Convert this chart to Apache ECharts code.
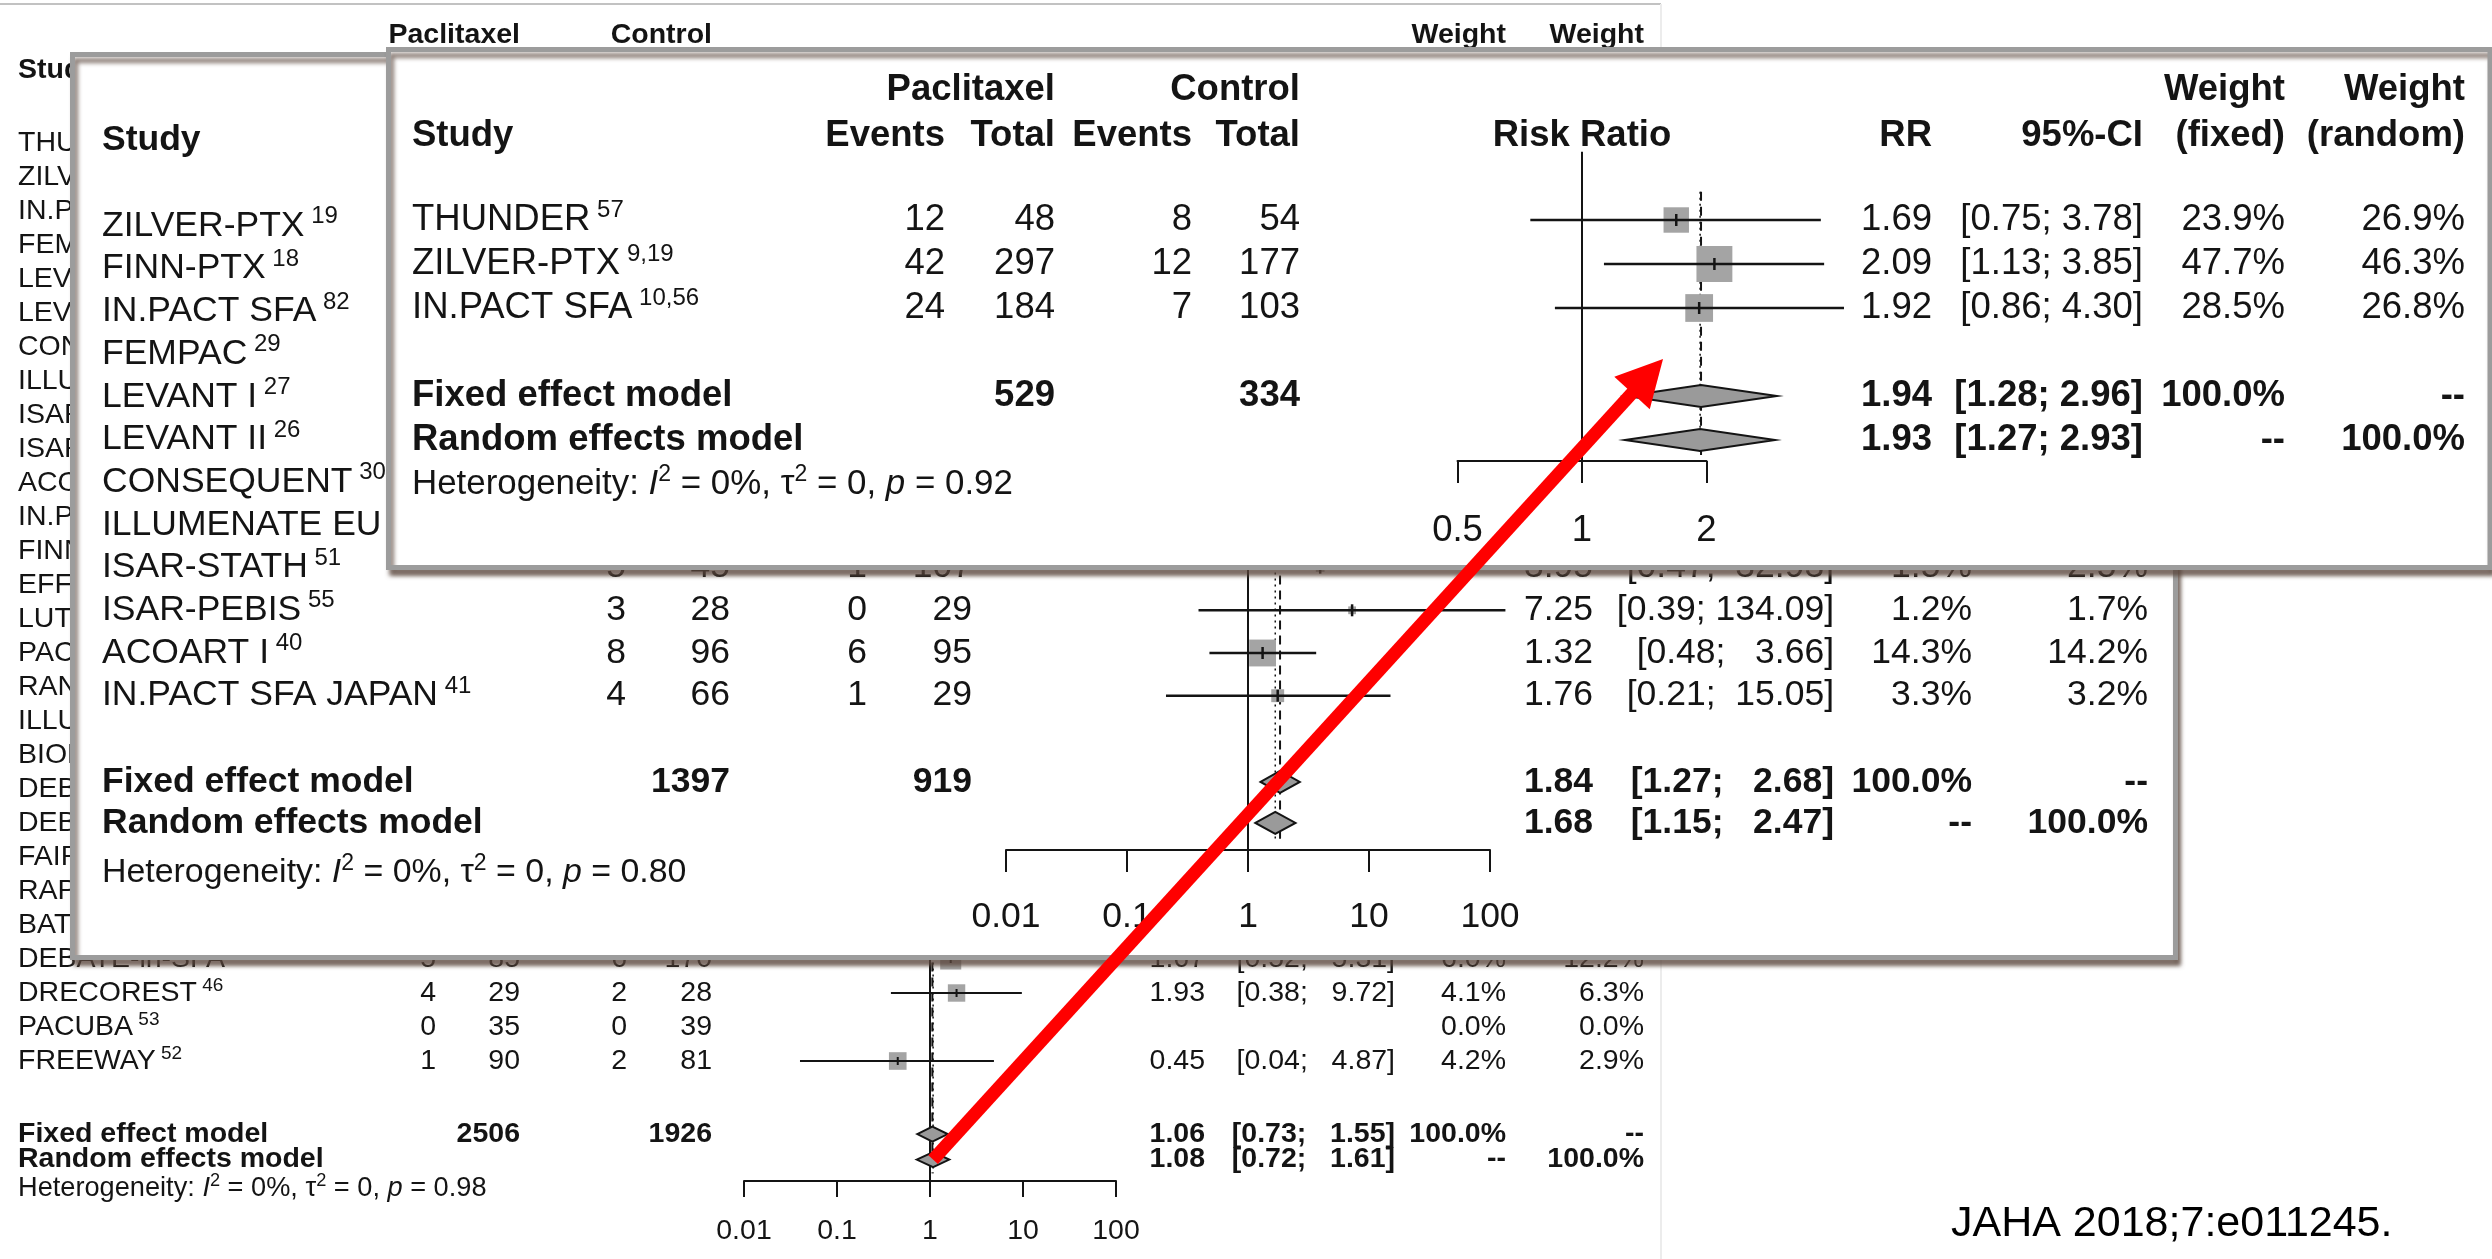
<!DOCTYPE html>
<html><head><meta charset="utf-8">
<script src="https://cdn.jsdelivr.net/npm/echarts@6/dist/echarts.min.js"></script>
<style>html,body{margin:0;padding:0;background:#fff;}#c{width:2492px;height:1259px;}</style>
</head><body><div id="c"></div>
<script>
// ================= DATA =================
const armLabels = ['Paclitaxel', 'Control'];

// --- Background plot: all RCTs (rows hidden behind the insets have no readable values) ---
const bgStudies = ['THUNDER','ZILVER-PTX','IN.PACT SFA','FEMPAC','LEVANT I','LEVANT II','CONSEQUENT','ILLUMENATE EU RCT','ISAR-STATH','ISAR-PEBIS','ACOART I','IN.PACT SFA JAPAN','FINN-PTX','EFFPAC','LUTONIX SFA','PACIFIER','RANGER SFA','ILLUMENATE PIVOTAL','BIOLUX P-I','DEBATE-SFA','DEBELLUM','FAIR','RAPID','BATTLE','DEBATE-in-SFA','DRECOREST','PACUBA','FREEWAY'];
const bgRefs  = ['57','9,19','10,56','29','27','26','30','31','51','55','40','41','18','','','','','','','','','','','','','46','53','52'];
const bgEv1  = [...Array(24).fill(null), 5, 4, 0, 1];
const bgTot1 = [...Array(24).fill(null), 85, 29, 35, 90];
const bgEv2  = [...Array(24).fill(null), 6, 2, 0, 2];
const bgTot2 = [...Array(24).fill(null), 170, 28, 39, 81];
const bgRR   = [...Array(24).fill(null), 1.67, 1.93, null, 0.45];
const bgLo   = [...Array(24).fill(null), 0.52, 0.38, null, 0.04];
const bgHi   = [...Array(24).fill(null), 5.31, 9.72, null, 4.87];
const bgWf   = [...Array(24).fill(null), 6.0, 4.1, 0.0, 4.2];
const bgWr   = [...Array(24).fill(null), 12.2, 6.3, 0.0, 2.9];
const bgTotals = [2506, 1926];
const bgFixed  = [1.06, 0.73, 1.55];
const bgRandom = [1.08, 0.72, 1.61];
const bgHet    = ['0%', '0', '0.98'];
const bgTicks  = [0.01, 0.1, 1, 10, 100];
const bgTickLabels = ['0.01', '0.1', '1', '10', '100'];

// --- Middle inset ---
const midStudies = ['ZILVER-PTX','FINN-PTX','IN.PACT SFA','FEMPAC','LEVANT I','LEVANT II','CONSEQUENT','ILLUMENATE EU RCT','ISAR-STATH','ISAR-PEBIS','ACOART I','IN.PACT SFA JAPAN'];
const midRefs  = ['19','18','82','29','27','26','30','31','51','55','40','41'];
const midEv1  = [null,null,null,null,null,null,null,null, 5, 3, 8, 4];
const midTot1 = [null,null,null,null,null,null,null,null, 45, 28, 96, 66];
const midEv2  = [null,null,null,null,null,null,null,null, 1, 0, 6, 1];
const midTot2 = [null,null,null,null,null,null,null,null, 107, 29, 95, 29];
const midRR   = [null,null,null,null,null,null,null,null, 3.95, 7.25, 1.32, 1.76];
const midLo   = [null,null,null,null,null,null,null,null, 0.47, 0.39, 0.48, 0.21];
const midHi   = [null,null,null,null,null,null,null,null, 32.93, 134.09, 3.66, 15.05];
const midWf   = [null,null,null,null,null,null,null,null, 1.5, 1.2, 14.3, 3.3];
const midWr   = [null,null,null,null,null,null,null,null, 2.5, 1.7, 14.2, 3.2];
const midTotals = [1397, 919];
const midFixed  = [1.84, 1.27, 2.68];
const midRandom = [1.68, 1.15, 2.47];
const midHet    = ['0%', '0', '0.80'];
const midTicks  = [0.01, 0.1, 1, 10, 100];
const midTickLabels = ['0.01', '0.1', '1', '10', '100'];

// --- Front inset ---
const frontStudies = ['THUNDER','ZILVER-PTX','IN.PACT SFA'];
const frontRefs  = ['57','9,19','10,56'];
const frontEv1  = [12, 42, 24];
const frontTot1 = [48, 297, 184];
const frontEv2  = [8, 12, 7];
const frontTot2 = [54, 177, 103];
const frontRR   = [1.69, 2.09, 1.92];
const frontLo   = [0.75, 1.13, 0.86];
const frontHi   = [3.78, 3.85, 4.30];
const frontWf   = [23.9, 47.7, 28.5];
const frontWr   = [26.9, 46.3, 26.8];
const frontTotals = [529, 334];
const frontFixed  = [1.94, 1.28, 2.96];
const frontRandom = [1.93, 1.27, 2.93];
const frontHet    = ['0%', '0', '0.92'];
const frontTicks  = [0.5, 1, 2];
const frontTickLabels = ['0.5', '1', '2'];

const sourceNote = 'JAHA 2018;7:e011245.';

// ================= LAYOUT / STYLE =================
const W = 2492, H = 1259;
const FONT = "'Liberation Sans', Arial, Helvetica, sans-serif";
const INK = '#141414';

const BG = {zl:0, rowY0:143, rowH:34, fs:28.5, sup:19, axisY:1181, fx0:744, fx1:1116, logBase:10, xmin:0.01, xmax:100,
  tickLen:16, labelMargin:36,
  cols:{name:18, ev1:436, tot1:520, ev2:627, tot2:712, rrHead:930, rr:1205, ci:1395, wf:1506, wr:1644},
  headerRows:[-3.18,-2.15], fixedRow:29.15, randomRow:29.9, hetRow:30.75, sqK:8.6, lw:2, tickH:8, dH:7.5,
  refTop:-1.5, dashTop:-0.6, dashBot:30.3, ciLen:6,
  studies:bgStudies, refs:bgRefs, ev1:bgEv1, tot1:bgTot1, ev2:bgEv2, tot2:bgTot2, rr:bgRR, lo:bgLo, hi:bgHi, wf:bgWf, wr:bgWr,
  totals:bgTotals, fixed:bgFixed, random:bgRandom, het:bgHet, ticks:bgTicks, tickLabels:bgTickLabels};
const MID = {zl:1, rowY0:226, rowH:42.7, fs:35.5, sup:24, axisY:850, fx0:1006, fx1:1490, logBase:10, xmin:0.01, xmax:100,
  tickLen:22, labelMargin:49,
  cols:{name:102, ev1:626, tot1:730, ev2:867, tot2:972, rrHead:1247, rr:1593, ci:1834, wf:1972, wr:2148},
  headerRows:[-3.01,-2.01], fixedRow:13.02, randomRow:13.98, hetRow:15.14, sqK:7.1, lw:2.5, tickH:12, dH:11,
  refTop:-1.5, dashTop:-0.6, dashBot:14.35, ciLen:6,
  studies:midStudies, refs:midRefs, ev1:midEv1, tot1:midTot1, ev2:midEv2, tot2:midTot2, rr:midRR, lo:midLo, hi:midHi, wf:midWf, wr:midWr,
  totals:midTotals, fixed:midFixed, random:midRandom, het:midHet, ticks:midTicks, tickLabels:midTickLabels};
const FRONT = {zl:2, rowY0:220, rowH:44, fs:36.5, sup:24, axisY:461, fx0:1457.5, fx1:1706.5, logBase:2, xmin:0.5, xmax:2,
  tickLen:22, labelMargin:51,
  cols:{name:412, ev1:945, tot1:1055, ev2:1192, tot2:1300, rrHead:1582, rr:1932, ci:2143, wf:2285, wr:2465},
  headerRows:[-2.95,-1.92], fixedRow:4, randomRow:5, hetRow:6, sqK:5.2, lw:2.5, tickH:12, dH:11,
  refTop:-1.55, dashTop:-0.64, dashBot:5.34, ciLen:4,
  studies:frontStudies, refs:frontRefs, ev1:frontEv1, tot1:frontTot1, ev2:frontEv2, tot2:frontTot2, rr:frontRR, lo:frontLo, hi:frontHi, wf:frontWf, wr:frontWr,
  totals:frontTotals, fixed:frontFixed, random:frontRandom, het:frontHet, ticks:frontTicks, tickLabels:frontTickLabels};

// ================= BUILD =================
function fmtCI(lo, hi, maxLen) {
  const h = hi.toFixed(2);
  return '[' + lo.toFixed(2) + ';' + ' '.repeat(1 + Math.max(0, maxLen - h.length)) + h + ']';
}
function tickText(v, ticks, labels) {
  let bi = 0, bd = Infinity;
  ticks.forEach((t, i) => { const d = Math.abs(Math.log(v) - Math.log(t)); if (d < bd) { bd = d; bi = i; } });
  return bd < 1e-6 ? labels[bi] : '';
}

const grids = [], xAxes = [], yAxes = [], series = [];
const axisRefs = {};

function addPanel(key, P) {
  const gi = grids.length, fi = gi + 1;
  grids.push({left:0, top:0, width:W, height:H, show:false});
  xAxes.push({gridIndex:gi, type:'value', min:0, max:W, show:false});
  yAxes.push({gridIndex:gi, type:'value', inverse:true, min:-P.rowY0/P.rowH, max:(H-P.rowY0)/P.rowH, show:false});
  grids.push({left:P.fx0, top:0, width:P.fx1-P.fx0, height:P.axisY, show:false});
  xAxes.push({gridIndex:fi, type:'log', logBase:P.logBase, min:P.xmin, max:P.xmax, zlevel:P.zl, z:10,
    axisLine:{show:true, onZero:false, lineStyle:{color:INK, width:2}},
    axisTick:{show:true, length:P.tickLen, lineStyle:{color:INK, width:2}},
    axisLabel:{show:true, margin:P.labelMargin, color:INK, fontSize:P.fs, fontFamily:FONT,
      formatter:(v) => tickText(v, P.ticks, P.tickLabels)},
    splitLine:{show:false}, minorTick:{show:false}});
  yAxes.push({gridIndex:fi, type:'value', inverse:true, min:-P.rowY0/P.rowH, max:(P.axisY-P.rowY0)/P.rowH, show:false});
  axisRefs[key] = {x:fi, y:fi};

  // ---------- text cells ----------
  const cells = [];
  const add = (x, row, text, align, bold, rich) => cells.push({x, row, text, align, bold:!!bold, rich});
  const C = P.cols;
  const [h1, h2] = P.headerRows;
  add(C.tot1, h1, armLabels[0], 'right', true);
  add(C.tot2, h1, armLabels[1], 'right', true);
  add(C.wf, h1, 'Weight', 'right', true);
  add(C.wr, h1, 'Weight', 'right', true);
  add(C.name, h2, 'Study', 'left', true);
  add(C.ev1, h2, 'Events', 'right', true);
  add(C.tot1, h2, 'Total', 'right', true);
  add(C.ev2, h2, 'Events', 'right', true);
  add(C.tot2, h2, 'Total', 'right', true);
  add(C.rrHead, h2, 'Risk Ratio', 'center', true);
  add(C.rr, h2, 'RR', 'right', true);
  add(C.ci, h2, '95%-CI', 'right', true);
  add(C.wf, h2, '(fixed)', 'right', true);
  add(C.wr, h2, '(random)', 'right', true);

  const nameRich = {
    n:{fontSize:P.fs, fontFamily:FONT, fill:INK, lineHeight:Math.round(P.fs*1.2), verticalAlign:'middle'},
    s:{fontSize:P.sup, fontFamily:FONT, fill:INK, lineHeight:P.sup, verticalAlign:'top'}
  };
  P.studies.forEach((s, i) => {
    const ref = P.refs[i];
    add(C.name, i, ref ? `{n|${s}}{s| ${ref}}` : `{n|${s}}`, 'left', false, nameRich);
    if (P.ev1[i] != null) add(C.ev1, i, String(P.ev1[i]), 'right');
    if (P.tot1[i] != null) add(C.tot1, i, String(P.tot1[i]), 'right');
    if (P.ev2[i] != null) add(C.ev2, i, String(P.ev2[i]), 'right');
    if (P.tot2[i] != null) add(C.tot2, i, String(P.tot2[i]), 'right');
    if (P.rr[i] != null) {
      add(C.rr, i, P.rr[i].toFixed(2), 'right');
      add(C.ci, i, fmtCI(P.lo[i], P.hi[i], P.ciLen), 'right');
    }
    if (P.wf[i] != null) add(C.wf, i, P.wf[i].toFixed(1) + '%', 'right');
    if (P.wr[i] != null) add(C.wr, i, P.wr[i].toFixed(1) + '%', 'right');
  });
  add(C.name, P.fixedRow, 'Fixed effect model', 'left', true);
  add(C.tot1, P.fixedRow, String(P.totals[0]), 'right', true);
  add(C.tot2, P.fixedRow, String(P.totals[1]), 'right', true);
  add(C.rr, P.fixedRow, P.fixed[0].toFixed(2), 'right', true);
  add(C.ci, P.fixedRow, fmtCI(P.fixed[1], P.fixed[2], P.ciLen), 'right', true);
  add(C.wf, P.fixedRow, '100.0%', 'right', true);
  add(C.wr, P.fixedRow, '--', 'right', true);
  add(C.name, P.randomRow, 'Random effects model', 'left', true);
  add(C.rr, P.randomRow, P.random[0].toFixed(2), 'right', true);
  add(C.ci, P.randomRow, fmtCI(P.random[1], P.random[2], P.ciLen), 'right', true);
  add(C.wf, P.randomRow, '--', 'right', true);
  add(C.wr, P.randomRow, '100.0%', 'right', true);
  const hf = +(P.fs * 0.955).toFixed(1), hs = +(P.sup * 0.96).toFixed(1);
  const hetRich = {
    a:{fontSize:hf, fontFamily:FONT, fill:INK, lineHeight:Math.round(hf*1.2), verticalAlign:'middle'},
    i:{fontSize:hf, fontFamily:FONT, fill:INK, fontStyle:'italic', lineHeight:Math.round(hf*1.2), verticalAlign:'middle'},
    s:{fontSize:hs, fontFamily:FONT, fill:INK, lineHeight:hs, verticalAlign:'top'}
  };
  add(C.name, P.hetRow, `{a|Heterogeneity: }{i|I}{s|2}{a| = ${P.het[0]}, τ}{s|2}{a| = ${P.het[1]}, }{i|p}{a| = ${P.het[2]}}`, 'left', false, hetRich);

  series.push({
    type:'custom', xAxisIndex:gi, yAxisIndex:gi, zlevel:P.zl, z:10, silent:true, animation:false,
    data: cells.map((c, i) => [c.x, c.row, i]),
    renderItem: (params, api) => {
      const c = cells[api.value(2)];
      const pt = api.coord([api.value(0), api.value(1)]);
      const style = {text:c.text, fill:INK, align:c.align, verticalAlign:'middle',
        fontSize:P.fs, fontFamily:FONT, fontWeight:c.bold ? 'bold' : 'normal'};
      if (c.rich) style.rich = c.rich;
      return {type:'text', x:pt[0], y:pt[1], style};
    }
  });

  // ---------- reference lines ----------
  series.push({type:'line', xAxisIndex:fi, yAxisIndex:fi, zlevel:P.zl, z:8, silent:true, animation:false, clip:false,
    symbol:'none', data:[[1, P.refTop], [1, (P.axisY-P.rowY0)/P.rowH]], lineStyle:{color:INK, width:2}});
  series.push({type:'line', xAxisIndex:fi, yAxisIndex:fi, zlevel:P.zl, z:8, silent:true, animation:false, clip:false,
    symbol:'none', data:[[P.fixed[0], P.dashTop], [P.fixed[0], P.dashBot]], lineStyle:{color:INK, width:2, type:[9,6]}});
  series.push({type:'line', xAxisIndex:fi, yAxisIndex:fi, zlevel:P.zl, z:8, silent:true, animation:false, clip:false,
    symbol:'none', data:[[P.random[0], P.dashTop], [P.random[0], P.dashBot]], lineStyle:{color:INK, width:1.5, type:[2,4]}});

  // ---------- study estimates ----------
  const studyData = [];
  P.rr.forEach((v, i) => { if (v != null) studyData.push([v, P.lo[i], P.hi[i], i, P.wf[i]]); });
  series.push({
    type:'custom', xAxisIndex:fi, yAxisIndex:fi, zlevel:P.zl, z:9, silent:true, animation:false, clip:false,
    data: studyData,
    renderItem: (params, api) => {
      const row = api.value(3);
      const c = api.coord([api.value(0), row]);
      const a = api.coord([api.value(1), row]);
      const b = api.coord([api.value(2), row]);
      const s = P.sqK * Math.sqrt(api.value(4));
      return {type:'group', children:[
        {type:'rect', shape:{x:c[0]-s/2, y:c[1]-s/2, width:s, height:s}, style:{fill:'#a4a4a4'}},
        {type:'line', shape:{x1:a[0], y1:a[1], x2:b[0], y2:b[1]}, style:{stroke:INK, lineWidth:P.lw}},
        {type:'line', shape:{x1:c[0], y1:c[1]-P.tickH/2, x2:c[0], y2:c[1]+P.tickH/2}, style:{stroke:INK, lineWidth:P.lw}}
      ]};
    }
  });

  // ---------- pooled diamonds ----------
  series.push({
    type:'custom', xAxisIndex:fi, yAxisIndex:fi, zlevel:P.zl, z:9, silent:true, animation:false, clip:false,
    data: [[P.fixed[0], P.fixed[1], P.fixed[2], P.fixedRow], [P.random[0], P.random[1], P.random[2], P.randomRow]],
    renderItem: (params, api) => {
      const row = api.value(3);
      const c = api.coord([api.value(0), row]);
      const a = api.coord([api.value(1), row]);
      const b = api.coord([api.value(2), row]);
      return {type:'polygon', shape:{points:[[a[0], c[1]], [c[0], c[1]-P.dH], [b[0], c[1]], [c[0], c[1]+P.dH]]},
        style:{fill:'#9a9a9a', stroke:INK, lineWidth:2}};
    }
  });
}

addPanel('bg', BG);
addPanel('mid', MID);
addPanel('front', FRONT);

const panelShadow = {shadowBlur:4, shadowOffsetX:3, shadowOffsetY:6, shadowColor:'rgba(90,70,60,0.7)'};
const baseGraphics = [
  {id:'bgTop', type:'line', zlevel:0, z:0, shape:{x1:0, y1:4, x2:1661, y2:4}, style:{stroke:'#c2c2c2', lineWidth:2}},
  {id:'bgRight', type:'line', zlevel:0, z:0, shape:{x1:1661, y1:4, x2:1661, y2:H}, style:{stroke:'#ececec', lineWidth:2}},
  {id:'note', type:'text', zlevel:0, z:0, x:1951, y:1224, style:{text:sourceNote, fill:'#000', fontSize:43, fontFamily:FONT, verticalAlign:'middle'}},
  {id:'midPanel', type:'rect', zlevel:1, z:0, shape:{x:72.5, y:54.5, width:2103, height:903},
    style:Object.assign({fill:'#fff', stroke:'#9c9c9c', lineWidth:5}, panelShadow)},
  {id:'frontPanel', type:'rect', zlevel:2, z:0, shape:{x:388.5, y:49.5, width:2101.5, height:518},
    style:Object.assign({fill:'#fff', stroke:'#9c9c9c', lineWidth:5}, panelShadow)}
];

const chart = echarts.init(document.getElementById('c'), null, {renderer:'canvas', width:W, height:H});
chart.setOption({
  animation:false,
  backgroundColor:'#ffffff',
  grid:grids, xAxis:xAxes, yAxis:yAxes, series:series,
  graphic:{elements:baseGraphics}
});

// ---------- red arrow: from background pooled random-effects estimate to the front inset ----------
const arrowTipFront = [1.57, 3.16]; // anchor in front-inset data coordinates (risk ratio, row)
const p0 = chart.convertToPixel({xAxisIndex:axisRefs.bg.x, yAxisIndex:axisRefs.bg.y}, [bgRandom[0], BG.randomRow]);
const p1 = chart.convertToPixel({xAxisIndex:axisRefs.front.x, yAxisIndex:axisRefs.front.y}, arrowTipFront);
const dx = p1[0]-p0[0], dy = p1[1]-p0[1], L = Math.hypot(dx, dy);
const ux = dx/L, uy = dy/L, px = -uy, py = ux;
const headLen = 46, halfW = 24;
const bx = p1[0]-ux*headLen, by = p1[1]-uy*headLen;
chart.setOption({graphic:{elements: baseGraphics.concat([
  {id:'arrowLine', type:'line', zlevel:3, z:0, shape:{x1:p0[0], y1:p0[1], x2:bx+ux*2, y2:by+uy*2}, style:{stroke:'#ff0000', lineWidth:13, lineCap:'butt'}},
  {id:'arrowHead', type:'polygon', zlevel:3, z:0, shape:{points:[[p1[0], p1[1]], [bx+px*halfW, by+py*halfW], [bx-px*halfW, by-py*halfW]]}, style:{fill:'#ff0000'}}
])}});
</script></body></html>
